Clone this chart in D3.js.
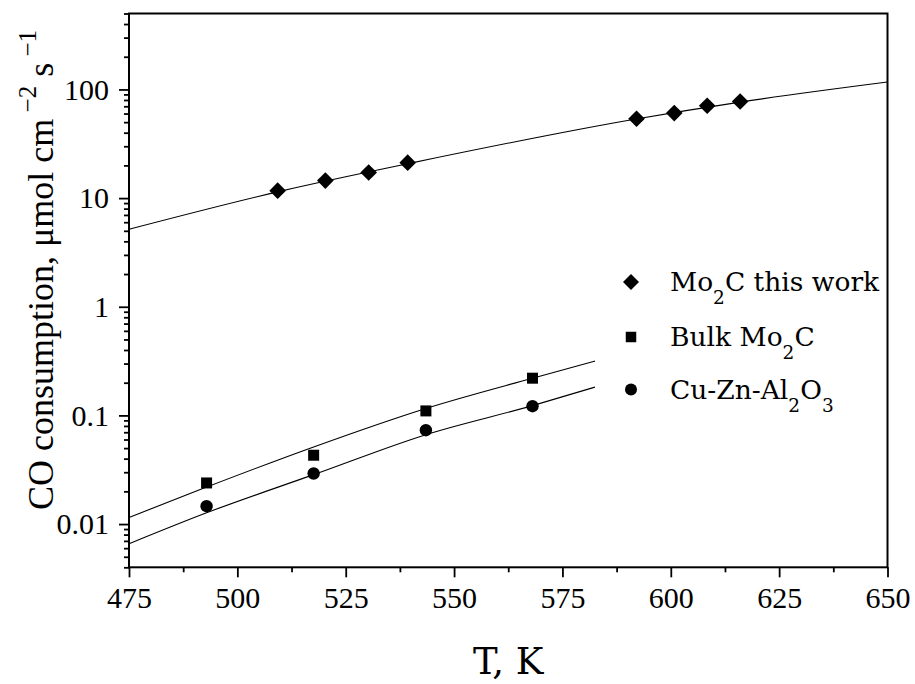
<!DOCTYPE html>
<html>
<head>
<meta charset="utf-8">
<script src="https://cdn.jsdelivr.net/npm/d3@7"></script>
<style>
  body { margin: 0; background: #fff; }
</style>
</head>
<body>
<svg id="chart" width="915" height="684"></svg>
<script>
// temperature ticks (K) and rate ticks (umol cm-2 s-1)
var tempTicks = [475, 500, 525, 550, 575, 600, 625, 650];
var tempMinorTicks = [487.5, 512.5, 537.5, 562.5, 587.5, 612.5, 637.5];
var rateTicks = [0.01, 0.1, 1, 10, 100];
var rateTickLabels = ['0.01', '0.1', '1', '10', '100'];

// Mo2C this work
var mo2cT = [509.3, 520.3, 530.3, 539.3, 592.1, 600.8, 608.4, 616.0];
var mo2cRate = [11.7, 14.5, 17.2, 21.2, 53.7, 60.6, 70.8, 77.5];
var mo2cFitT = [475, 510, 540, 592, 616, 650];
var mo2cFitRate = [5.17, 11.6, 21.0, 53.5, 76.5, 117];

// Bulk Mo2C
var bulkT = [492.9, 517.6, 543.5, 568.1];
var bulkRate = [0.0239, 0.0430, 0.110, 0.220];
var bulkFitT = [475, 492.9, 517.6, 543.5, 568.1, 582.5];
var bulkFitRate = [0.0115, 0.0219, 0.0513, 0.116, 0.22, 0.316];

// Cu-Zn-Al2O3
var cuT = [492.9, 517.6, 543.5, 568.1];
var cuRate = [0.0146, 0.0292, 0.0731, 0.1216];
var cuFitT = [475, 492.9, 517.6, 543.5, 568.1, 582.5];
var cuFitRate = [0.00659, 0.0127, 0.0285, 0.0665, 0.123, 0.182];

(function() {
  var plotLeft = 129, plotRight = 887.5, plotTop = 13.5, plotBottom = 567.3;
  var tickFont = "'Liberation Serif', serif";
  var textFont = "'DejaVu Serif', serif";
  var svg = d3.select('#chart');

  var x = d3.scaleLinear().domain([475, 650]).range([plotLeft, plotRight]);
  var y = d3.scaleLog().domain([0.004, 500]).range([plotBottom, plotTop]);

  function zip(xs, ys) {
    return xs.map(function(t, i) { return { t: t, r: ys[i] }; });
  }

  function styleAxis(g) {
    g.select('.domain').remove();
    g.selectAll('.tick line').attr('stroke', '#000').attr('stroke-width', 1.8);
    g.selectAll('.tick text')
      .attr('fill', '#000')
      .attr('font-family', tickFont)
      .attr('font-size', 30);
  }

  // x axis, major + minor
  svg.append('g')
    .attr('transform', 'translate(0,' + plotBottom + ')')
    .call(d3.axisBottom(x).tickValues(tempTicks).tickFormat(d3.format('d'))
      .tickSize(10).tickPadding(9).tickSizeOuter(0))
    .call(styleAxis);
  svg.append('g')
    .attr('transform', 'translate(0,' + plotBottom + ')')
    .call(d3.axisBottom(x).tickValues(tempMinorTicks).tickFormat('').tickSize(5).tickSizeOuter(0))
    .call(styleAxis);

  // y axis, major + minor (2..9 of each decade)
  svg.append('g')
    .attr('transform', 'translate(' + plotLeft + ',0)')
    .call(d3.axisLeft(y).tickValues(rateTicks)
      .tickFormat(function(d, i) { return rateTickLabels[i]; })
      .tickSize(10).tickPadding(10).tickSizeOuter(0))
    .call(styleAxis);

  var minorRate = y.ticks().filter(function(d) {
    var l = Math.log10(d);
    return Math.abs(l - Math.round(l)) > 1e-6;
  });
  svg.append('g')
    .attr('transform', 'translate(' + plotLeft + ',0)')
    .call(d3.axisLeft(y).tickValues(minorRate).tickFormat('').tickSize(5).tickSizeOuter(0))
    .call(styleAxis);

  // frame
  svg.append('rect')
    .attr('x', plotLeft).attr('y', plotTop)
    .attr('width', plotRight - plotLeft).attr('height', plotBottom - plotTop)
    .attr('fill', 'none').attr('stroke', '#000').attr('stroke-width', 2);

  // fit curves
  var line = d3.line()
    .x(function(d) { return x(d.t); })
    .y(function(d) { return y(d.r); })
    .curve(d3.curveMonotoneX);

  [[mo2cFitT, mo2cFitRate], [bulkFitT, bulkFitRate], [cuFitT, cuFitRate]].forEach(function(s) {
    svg.append('path')
      .datum(zip(s[0], s[1]))
      .attr('d', line)
      .attr('fill', 'none')
      .attr('stroke', '#000')
      .attr('stroke-width', 1.1);
  });

  // markers
  var diamond = d3.symbol().type(d3.symbolSquare).size(139);
  var square = d3.symbol().type(d3.symbolSquare).size(121);

  svg.append('g').selectAll('path')
    .data(zip(mo2cT, mo2cRate))
    .enter().append('path')
    .attr('d', diamond)
    .attr('transform', function(d) { return 'translate(' + x(d.t) + ',' + y(d.r) + ') rotate(45)'; })
    .attr('fill', '#000');

  svg.append('g').selectAll('path')
    .data(zip(bulkT, bulkRate))
    .enter().append('path')
    .attr('d', square)
    .attr('transform', function(d) { return 'translate(' + x(d.t) + ',' + y(d.r) + ')'; })
    .attr('fill', '#000');

  svg.append('g').selectAll('circle')
    .data(zip(cuT, cuRate))
    .enter().append('circle')
    .attr('cx', function(d) { return x(d.t); })
    .attr('cy', function(d) { return y(d.r); })
    .attr('r', 6.2)
    .attr('fill', '#000');

  // legend
  var legend = [
    { mark: 'diamond', parts: [['Mo', 0], ['2', 1], ['C this work', 0]] },
    { mark: 'square', parts: [['Bulk Mo', 0], ['2', 1], ['C', 0]] },
    { mark: 'circle', parts: [['Cu-Zn-Al', 0], ['2', 1], ['O', 0], ['3', 1]] }
  ];
  var legendBase = [291, 345.5, 398.5];
  legend.forEach(function(item, i) {
    var cy = legendBase[i] - 9;
    if (item.mark === 'diamond') {
      svg.append('path').attr('d', d3.symbol().type(d3.symbolSquare).size(128))
        .attr('transform', 'translate(631,' + cy + ') rotate(45)').attr('fill', '#000');
    } else if (item.mark === 'square') {
      svg.append('path').attr('d', d3.symbol().type(d3.symbolSquare).size(110))
        .attr('transform', 'translate(631,' + (cy + 0.5) + ')').attr('fill', '#000');
    } else {
      svg.append('circle').attr('cx', 631).attr('cy', cy).attr('r', 6).attr('fill', '#000');
    }
    var t = svg.append('text')
      .attr('x', 670).attr('y', legendBase[i])
      .attr('font-family', textFont).attr('font-size', 26.5);
    var shift = 0;
    item.parts.forEach(function(p) {
      var want = p[1] ? 13 : 0;
      t.append('tspan')
        .attr('dy', want - shift)
        .attr('font-size', p[1] ? 18.5 : 26.5)
        .text(p[0]);
      shift = want;
    });
  });

  // axis titles
  svg.append('text')
    .attr('x', (plotLeft + plotRight) / 2).attr('y', 674)
    .attr('text-anchor', 'middle')
    .attr('font-family', textFont).attr('font-size', 37)
    .text('T, K');

  var yt = svg.append('text')
    .attr('transform', 'translate(53,270) rotate(-90)')
    .attr('text-anchor', 'middle')
    .attr('font-family', tickFont).attr('font-size', 36);
  yt.append('tspan').text('CO consumption, \u03bcmol cm');
  yt.append('tspan').attr('dy', -17).attr('font-size', 25).text(' \u22122');
  yt.append('tspan').attr('dy', 17).text(' s');
  yt.append('tspan').attr('dy', -17).attr('font-size', 25).text(' \u22121');
})();
</script>
</body>
</html>
